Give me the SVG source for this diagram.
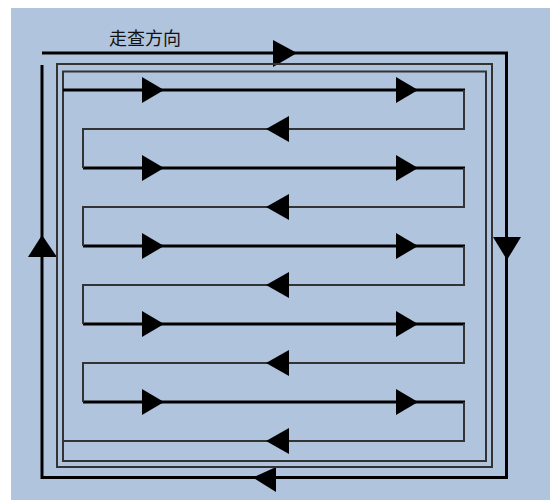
<svg xmlns="http://www.w3.org/2000/svg" width="550" height="500" viewBox="0 0 550 500">
<style>
.thick{stroke:#000;stroke-width:3;fill:none}
.thin{stroke:#333;stroke-width:2;fill:none}
.arr{fill:#000;stroke:none}
.lbl{font-family:"Noto Sans CJK SC","Noto Sans",sans-serif;font-size:18px;fill:#111}
</style>
<rect x="0" y="0" width="550" height="500" fill="#fff"/>
<rect x="11" y="8" width="539" height="492" fill="#B0C4DE"/>
<g id="label"><text class="lbl" x="109" y="45">走查方向</text></g>
<g id="connectors">
  <!-- outer loop -->
  <polyline class="thick" points="42,53 506.5,53 506.5,477.5 42,477.5 42,65"/>
  <polygon class="arr" points="273,40 297,53 273,67"/>
  <polygon class="arr" points="493,237 521,237 507,260"/>
  <polygon class="arr" points="253,477.5 276,467 276,492"/>
  <polygon class="arr" points="42,235 28,257 57,257"/>
  <!-- rectangles -->
  <rect class="thin" x="57" y="64" width="435" height="403"/>
  <rect class="thin" x="63" y="71.5" width="423" height="389.5"/>
  <!-- serpentine -->
  <line class="thick" x1="63" y1="90" x2="465" y2="90"/>
  <line class="thick" x1="83" y1="168" x2="465" y2="168"/>
  <line class="thick" x1="83" y1="246" x2="465" y2="246"/>
  <line class="thick" x1="83" y1="324" x2="465" y2="324"/>
  <line class="thick" x1="83" y1="402" x2="465" y2="402"/>
  <polyline class="thin" points="464,90 464,129 83,129 83,168"/>
  <polyline class="thin" points="464,168 464,207 83,207 83,246"/>
  <polyline class="thin" points="464,246 464,285 83,285 83,324"/>
  <polyline class="thin" points="464,324 464,363 83,363 83,402"/>
  <polyline class="thin" points="464,402 464,441 63,441"/>
  <g class="arr">
    <polygon points="142,77 164,90 142,103"/>
    <polygon points="396,77 418,90 396,103"/>
    <polygon points="142,155 164,168 142,181"/>
    <polygon points="396,155 418,168 396,181"/>
    <polygon points="142,233 164,246 142,259"/>
    <polygon points="396,233 418,246 396,259"/>
    <polygon points="142,311 164,324 142,337"/>
    <polygon points="396,311 418,324 396,337"/>
    <polygon points="142,389 164,402 142,415"/>
    <polygon points="396,389 418,402 396,415"/>
    <polygon points="266,129 289,116 289,142"/>
    <polygon points="266,207 289,194 289,220"/>
    <polygon points="266,285 289,272 289,298"/>
    <polygon points="266,363 289,350 289,376"/>
    <polygon points="266,441 289,428 289,454"/>
  </g>
</g>
</svg>
